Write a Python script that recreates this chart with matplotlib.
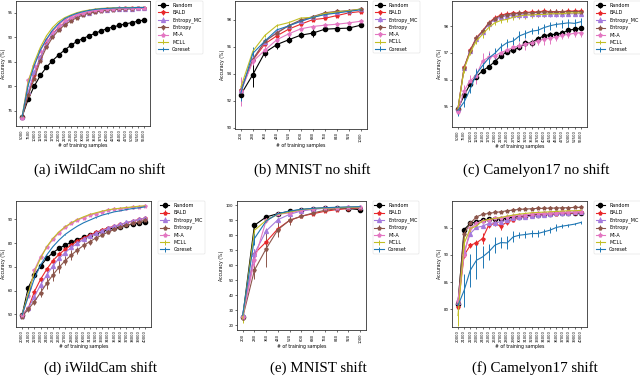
import matplotlib
matplotlib.use("Agg")
import matplotlib.pyplot as plt

methods = ["Random", "BALD", "Entropy_MC", "Entropy", "MI-A", "MCLL", "Coreset"]
colors = ["black", "#e8282b", "#a57bdc", "#8c564b", "#e377c2", "#c2bf24", "#1f77b4"]
markers = ["o", "*", "^", "*", "*", "", ""]

# (a) iWildCam no shift
a_x = [5000, 7500, 10000, 12500, 15000, 17500, 20000, 22500, 25000, 27500, 30000,
       32500, 35000, 37500, 40000, 42500, 45000, 47500, 50000, 52500, 55000]
a_acc = {
    "Random": [73.8, 77.35, 80.04, 82.2, 83.88, 85.23, 86.37, 87.39, 88.33, 89.14, 89.74,
               90.28, 90.82, 91.29, 91.77, 92.1, 92.44, 92.71, 92.98, 93.25, 93.52],
    "BALD": [73.8, 78.49, 82.2, 85.9, 88.6, 90.62, 91.97, 92.98, 93.79, 94.33, 94.8,
             95.13, 95.34, 95.54, 95.67, 95.74, 95.81, 95.88, 95.88, 95.94, 95.94],
    "Entropy_MC": [73.8, 78.83, 82.87, 85.9, 88.46, 90.42, 91.83, 92.84, 93.65, 94.26, 94.66,
                   95.0, 95.27, 95.47, 95.61, 95.67, 95.74, 95.81, 95.81, 95.88, 95.88],
    "Entropy": [73.7, 78.15, 81.52, 85.23, 87.92, 89.95, 91.43, 92.51, 93.32, 93.99, 94.53,
                94.87, 95.13, 95.34, 95.47, 95.61, 95.67, 95.74, 95.81, 95.88, 95.88],
    "MI-A": [73.6, 81.19, 84.22, 87.25, 89.41, 91.16, 92.51, 93.52, 94.19, 94.66, 95.0,
             95.27, 95.47, 95.61, 95.74, 95.81, 95.88, 95.88, 95.94, 95.94, 95.94],
    "MCLL": [73.8, 80.85, 84.89, 87.92, 90.28, 91.97, 93.18, 93.99, 94.53, 95.0, 95.34,
             95.54, 95.74, 95.88, 95.94, 96.01, 96.01, 96.08, 96.08, 96.08, 96.08],
    "Coreset": [73.8, 80.18, 84.22, 87.39, 89.61, 91.43, 92.78, 93.79, 94.39, 94.87, 95.2,
                95.47, 95.67, 95.81, 95.88, 95.94, 96.01, 96.01, 96.01, 96.08, 96.08],
}
a_err = {}

# (b) MNIST no shift
b_x = [200, 280, 360, 440, 520, 600, 680, 760, 840, 920, 1000]
b_acc = {
    "Random": [92.44, 93.93, 95.56, 96.15, 96.51, 96.85, 97.0, 97.29, 97.34, 97.37, 97.59],
    "BALD": [92.76, 95.0, 96.2, 96.8, 97.3, 97.66, 98.0, 98.1, 98.3, 98.5, 98.6],
    "Entropy_MC": [92.8, 95.1, 96.34, 97.07, 97.56, 97.88, 98.17, 98.41, 98.54, 98.66, 98.78],
    "Entropy": [92.8, 95.03, 96.41, 97.0, 97.56, 97.98, 98.22, 98.51, 98.61, 98.66, 98.78],
    "MI-A": [92.68, 94.9, 95.73, 96.51, 96.95, 97.32, 97.49, 97.59, 97.66, 97.76, 97.88],
    "MCLL": [93.0, 95.66, 96.83, 97.56, 97.78, 98.12, 98.17, 98.46, 98.56, 98.66, 98.78],
    "Coreset": [92.56, 95.5, 96.41, 97.24, 97.54, 97.88, 98.17, 98.37, 98.49, 98.61, 98.73],
}
b_err = {
    "Random": [0.3, 0.9, 0.3, 0.3, 0.25, 0.2, 0.3, 0.15, 0.15, 0.15, 0.1],
    "MI-A": [1.1, 0.3, 0.4, 0.3, 0.2, 0.15, 0.1, 0.1, 0.1, 0.1, 0.1],
    "Coreset": [0.6, 0.5, 0.2, 0.15, 0.1, 0.1, 0.1, 0.1, 0.1, 0.1, 0.1],
    "BALD": [0.3, 0.2, 0.15, 0.15, 0.1, 0.1, 0.1, 0.1, 0.1, 0.1, 0.1],
}

# (c) Camelyon17 no shift
c_x = a_x
c_acc = {
    "Random": [94.91, 95.41, 95.84, 96.11, 96.33, 96.48, 96.67, 96.89, 97.04, 97.1, 97.2,
               97.35, 97.38, 97.53, 97.63, 97.68, 97.69, 97.74, 97.85, 97.88, 97.91],
    "BALD": [94.91, 96.46, 97.1, 97.57, 97.81, 98.12, 98.31, 98.41, 98.46, 98.48, 98.49,
             98.51, 98.52, 98.53, 98.56, 98.54, 98.54, 98.54, 98.56, 98.56, 98.56],
    "Entropy_MC": [94.91, 96.44, 97.05, 97.52, 97.78, 98.08, 98.25, 98.33, 98.38, 98.4, 98.41,
                   98.43, 98.44, 98.44, 98.45, 98.45, 98.45, 98.45, 98.46, 98.46, 98.46],
    "Entropy": [94.91, 96.45, 97.08, 97.55, 97.8, 98.1, 98.28, 98.38, 98.43, 98.46, 98.47,
                98.49, 98.5, 98.51, 98.53, 98.52, 98.52, 98.53, 98.54, 98.54, 98.54],
    "MI-A": [94.79, 95.59, 95.96, 96.15, 96.7, 96.83, 96.89, 97.01, 97.1, 97.2, 97.26,
             97.32, 97.38, 97.44, 97.51, 97.54, 97.59, 97.65, 97.69, 97.73, 97.75],
    "MCLL": [94.91, 96.4, 97.01, 97.44, 97.69, 97.94, 98.12, 98.21, 98.25, 98.33, 98.37,
             98.41, 98.41, 98.43, 98.43, 98.46, 98.46, 98.46, 98.49, 98.49, 98.49],
    "Coreset": [94.85, 95.16, 95.65, 96.21, 96.52, 96.8, 96.98, 97.22, 97.38, 97.44, 97.63,
                97.72, 97.81, 97.84, 97.94, 98.01, 98.06, 98.09, 98.12, 98.1, 98.16],
}
c_err = {
    "Coreset": [0.2, 0.2, 0.15, 0.2, 0.2, 0.2, 0.2, 0.15, 0.15, 0.15, 0.2,
                0.15, 0.1, 0.15, 0.15, 0.15, 0.1, 0.15, 0.15, 0.15, 0.15],
    "MI-A": [0.1, 0.2, 0.2, 0.3, 0.3, 0.25, 0.2, 0.2, 0.15, 0.15, 0.15,
             0.2, 0.15, 0.15, 0.2, 0.2, 0.15, 0.15, 0.15, 0.15, 0.15],
    "MCLL": [0.1, 0.15, 0.1, 0.1, 0.15, 0.1, 0.1, 0.1, 0.1, 0.1, 0.1,
             0.15, 0.1, 0.1, 0.1, 0.1, 0.1, 0.1, 0.1, 0.1, 0.1],
}

# (d) iWildCam shift
d_x = [20000, 21000, 22000, 23000, 24000, 25000, 26000, 27000, 28000, 29000, 30000,
       31000, 32000, 33000, 34000, 35000, 36000, 37000, 38000, 39000, 40000]
d_acc = {
    "Random": [49.75, 61.25, 66.58, 70.36, 73.59, 75.97, 77.8, 79.2, 80.32, 81.44, 82.43,
               83.27, 84.11, 84.95, 85.79, 86.49, 86.91, 87.62, 88.04, 88.6, 89.02],
    "BALD": [49.75, 52.55, 59.57, 64.75, 68.96, 72.61, 75.27, 77.38, 79.2, 80.88, 82.29,
             83.41, 84.53, 85.51, 86.49, 87.19, 87.9, 88.6, 89.3, 90.0, 90.42],
    "Entropy_MC": [49.33, 52.55, 57.46, 62.37, 66.58, 70.36, 73.59, 75.97, 78.22, 79.9, 81.58,
                   82.99, 84.11, 85.23, 86.21, 87.19, 87.9, 88.74, 89.44, 90.0, 90.56],
    "Entropy": [49.05, 52.13, 55.36, 59.14, 63.07, 66.58, 69.8, 72.61, 74.99, 77.1, 79.06,
                80.6, 82.15, 83.41, 84.67, 85.79, 86.63, 87.48, 88.32, 89.02, 89.72],
    "MI-A": [49.75, 57.74, 68.68, 74.29, 78.22, 81.58, 84.39, 86.63, 88.32, 89.72, 90.84,
             91.82, 92.52, 93.23, 93.93, 94.35, 94.63, 94.91, 95.19, 95.47, 95.61],
    "MCLL": [49.75, 58.87, 67.98, 73.59, 78.5, 82.01, 84.81, 86.91, 88.6, 90.0, 91.12,
             92.1, 92.81, 93.51, 94.07, 94.49, 94.77, 95.05, 95.33, 95.61, 95.75],
    "Coreset": [49.75, 57.46, 65.18, 70.79, 74.99, 78.5, 81.3, 83.69, 85.51, 87.19, 88.6,
                89.72, 90.84, 91.82, 92.52, 93.23, 93.65, 94.21, 94.63, 94.91, 95.33],
}
d_err = {
    "Entropy": [0.5, 1.0, 1.5, 2.0, 2.5, 2.5, 2.5, 2.0, 2.0, 1.5, 1.5,
                1.2, 1.2, 1.0, 1.0, 0.8, 0.8, 0.8, 0.6, 0.6, 0.6],
    "Entropy_MC": [0.5, 1.0, 1.2, 1.5, 1.5, 1.5, 1.2, 1.2, 1.0, 1.0, 1.0,
                   0.8, 0.8, 0.8, 0.6, 0.6, 0.6, 0.5, 0.5, 0.5, 0.5],
    "BALD": [0.5, 0.8, 1.0, 1.0, 1.0, 1.0, 0.8, 0.8, 0.8, 0.6, 0.6,
             0.6, 0.5, 0.5, 0.5, 0.5, 0.4, 0.4, 0.4, 0.4, 0.4],
}

# (e) MNIST shift
e_x = b_x
e_acc = {
    "Random": [25.56, 86.67, 92.22, 94.44, 96.0, 97.1, 97.8, 98.2, 98.2, 97.8, 97.1],
    "BALD": [25.6, 67.8, 75.6, 84.4, 90.0, 92.7, 94.4, 96.0, 97.1, 97.8, 98.2],
    "Entropy_MC": [27.1, 67.8, 82.9, 90.4, 94.0, 96.2, 97.3, 98.0, 98.4, 98.7, 98.9],
    "Entropy": [25.1, 56.7, 71.1, 83.8, 90.0, 92.7, 94.9, 96.7, 97.6, 98.2, 98.4],
    "MI-A": [25.6, 63.3, 90.0, 94.0, 94.9, 96.7, 97.8, 98.2, 98.4, 98.7, 98.9],
    "MCLL": [24.4, 83.3, 90.0, 94.0, 95.56, 97.1, 97.8, 98.2, 98.4, 98.7, 98.9],
    "Coreset": [26.67, 77.8, 89.56, 94.44, 96.2, 97.3, 98.0, 98.4, 98.7, 98.9, 99.1],
}
e_err = {
    "Random": [1.5, 1.5, 0.8, 0.5, 0.3, 0.3, 0.3, 0.3, 0.3, 0.3, 0.3],
    "BALD": [1.5, 3.0, 3.0, 3.0, 1.0, 0.8, 0.5, 0.5, 0.3, 0.3, 0.3],
    "Entropy_MC": [1.5, 3.0, 2.0, 1.0, 0.5, 0.3, 0.3, 0.3, 0.3, 0.3, 0.3],
    "Entropy": [2.0, 6.0, 12.0, 5.0, 3.0, 1.0, 0.8, 0.5, 0.3, 0.3, 0.3],
    "MI-A": [1.0, 4.0, 2.0, 1.0, 0.5, 0.3, 0.3, 0.3, 0.3, 0.3, 0.3],
    "MCLL": [3.0, 2.0, 1.0, 0.5, 0.3, 0.3, 0.3, 0.3, 0.3, 0.3, 0.3],
    "Coreset": [2.0, 4.0, 1.0, 0.5, 0.3, 0.3, 0.3, 0.3, 0.3, 0.3, 0.3],
}

# (f) Camelyon17 shift
f_x = d_x
f_acc = {
    "Random": [80.99, 94.69, 95.8, 96.11, 96.42, 96.54, 96.6, 96.67, 96.73, 97.04, 97.04,
               97.22, 97.35, 97.41, 97.47, 97.53, 97.65, 97.72, 97.72, 97.78, 97.78],
    "BALD": [80.37, 89.94, 91.79, 92.22, 93.02, 95.49, 95.8, 95.31, 96.11, 96.42, 96.91,
             97.04, 97.16, 97.35, 97.41, 97.53, 97.59, 97.65, 97.72, 97.78, 97.84],
    "Entropy_MC": [81.3, 90.56, 93.95, 95.06, 95.31, 95.8, 95.93, 96.11, 96.42, 96.73, 96.91,
                   97.04, 97.16, 97.28, 97.41, 97.53, 97.65, 97.72, 97.78, 97.9, 97.96],
    "Entropy": [81.3, 93.95, 95.8, 97.04, 97.47, 97.65, 97.84, 97.96, 98.15, 98.27, 98.4,
                98.46, 98.52, 98.58, 98.58, 98.64, 98.64, 98.7, 98.7, 98.77, 98.77],
    "MI-A": [81.6, 89.94, 94.88, 95.8, 96.3, 96.42, 96.73, 96.85, 97.04, 97.16, 97.28,
             97.41, 97.53, 97.65, 97.65, 97.72, 97.78, 97.84, 97.9, 97.9, 97.96],
    "MCLL": [78.83, 92.1, 94.88, 95.31, 96.3, 96.54, 96.73, 96.91, 97.16, 97.35, 97.53,
             97.65, 97.78, 97.84, 97.9, 97.96, 98.02, 98.09, 98.15, 98.15, 98.21],
    "Coreset": [80.68, 83.46, 87.16, 89.01, 89.63, 90.56, 91.79, 92.28, 92.22, 93.33, 93.64,
                93.77, 93.95, 93.95, 94.26, 94.57, 95.06, 95.31, 95.49, 95.68, 95.99],
}
f_err = {
    "Coreset": [1.0, 3.0, 3.0, 3.5, 2.0, 1.5, 1.5, 1.0, 1.2, 1.0, 0.5,
                0.7, 0.6, 0.7, 0.5, 0.6, 0.7, 0.4, 0.3, 0.2, 0.2],
    "MCLL": [2.0, 1.5, 1.2, 0.5, 0.3, 0.3, 0.3, 0.3, 0.3, 0.3, 0.2,
             0.2, 0.2, 0.2, 0.2, 0.2, 0.2, 0.2, 0.2, 0.2, 0.2],
    "BALD": [0.5, 0.5, 0.5, 0.5, 1.0, 0.5, 0.5, 0.8, 0.5, 0.3, 0.3,
             0.3, 0.3, 0.3, 0.3, 0.3, 0.3, 0.3, 0.3, 0.3, 0.3],
}

panels = [
    ("(a) iWildCam no shift", a_x, a_acc, a_err, [75, 80, 85, 90, 95], (71.9, 97.4),
     [0.025, 0.6675, 0.209, 0.330], 100),
    ("(b) MNIST no shift", b_x, b_acc, b_err, [90, 92, 94, 96, 98], (89.9, 99.4),
     [0.367, 0.660, 0.206, 0.338], 312),
    ("(c) Camelyon17 no shift", c_x, c_acc, c_err, [95, 96, 97, 98], (94.23, 98.93),
     [0.706, 0.665, 0.211, 0.332], 536),
    ("(d) iWildCam shift", d_x, d_acc, d_err, [50, 60, 70, 80, 90], (44.6, 97.7),
     [0.025, 0.137, 0.211, 0.332], 100),
    ("(e) MNIST shift", e_x, e_acc, e_err, [20, 30, 40, 50, 60, 70, 80, 90, 100], (16.7, 102.7),
     [0.370, 0.129, 0.202, 0.340], 318),
    ("(f) Camelyon17 shift", f_x, f_acc, f_err, [80, 85, 90, 95], (76.7, 99.9),
     [0.706, 0.137, 0.211, 0.332], 535),
]

fig = plt.figure(figsize=(6.4, 3.79), dpi=100)

for i, (title, xs, acc, err, yt, ylim, rect, cx) in enumerate(panels):
    ax = fig.add_axes(rect)
    for m, c, mk in zip(methods, colors, markers):
        ax.errorbar(xs, acc[m], yerr=err.get(m, 0.1), color=c, marker=mk if mk else None,
                    ms=3.0 if m == "Random" else 2.8, lw=0.8, elinewidth=0.7, capsize=0,
                    label=m)
    ax.set_xticks(xs)
    ax.set_xticklabels([str(v) for v in xs], rotation=90, fontsize=2.7)
    ax.set_yticks(yt)
    ax.set_yticklabels([str(v) for v in yt], fontsize=2.9)
    ax.set_ylim(*ylim)
    ax.tick_params(length=1.5, width=0.4, pad=1)
    ax.set_xlabel("# of training samples", fontsize=3.3, labelpad=1)
    ax.set_ylabel("Accuracy (%)", fontsize=3.3, labelpad=1)
    for s in ax.spines.values():
        s.set_linewidth(0.6)
        s.set_color("#333333")
    leg = ax.legend(loc="upper left", bbox_to_anchor=(1.05, 1.0), borderaxespad=0,
                    fontsize=3.5, frameon=True, handlelength=2.0, labelspacing=0.45)
    leg.get_frame().set_linewidth(0.3)
    cy = 0.551 if i < 3 else 0.029
    fig.text(cx / 640, cy, title, ha="center", va="center", fontsize=10.8,
             family="Liberation Serif")

fig.savefig("out.png", dpi=100)
